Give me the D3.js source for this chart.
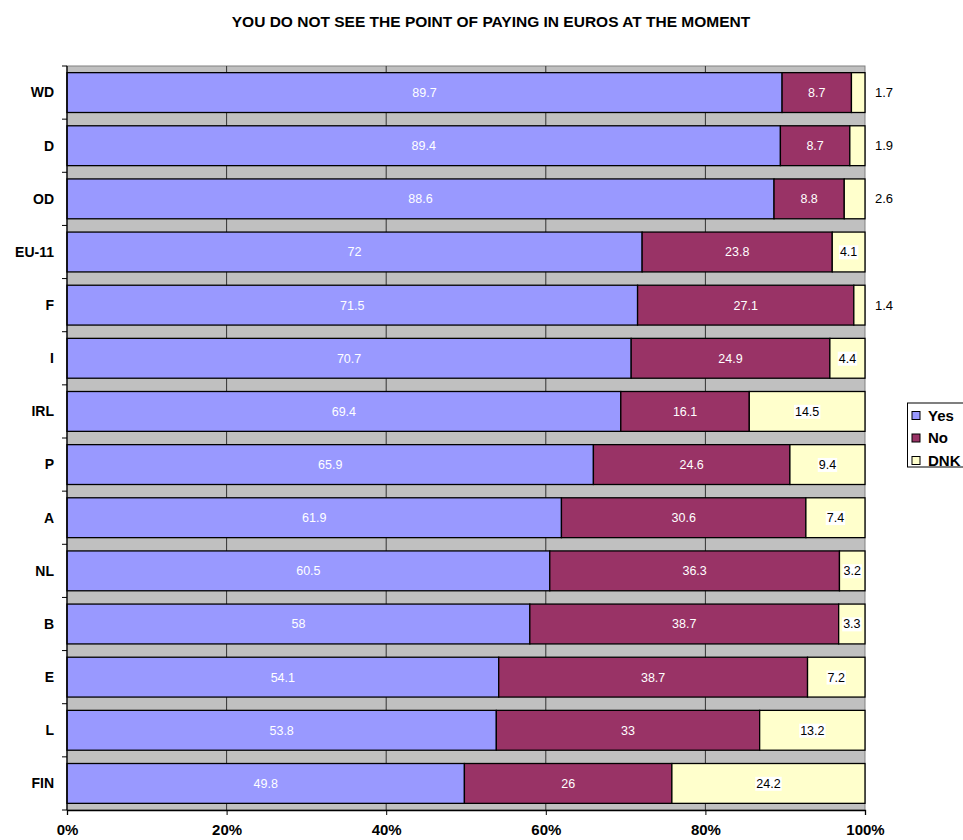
<!DOCTYPE html>
<html><head><meta charset="utf-8">
<script src="https://cdn.jsdelivr.net/npm/d3@7"></script>
<style>body{margin:0;background:#fff;} svg{display:block;font-family:Arial,"Liberation Sans",sans-serif;}</style>
</head><body>
<svg id="chart" width="963" height="840"></svg>
<script>
const title = "YOU DO NOT SEE THE POINT OF PAYING IN EUROS AT THE MOMENT";
const categories = ["WD","D","OD","EU-11","F","I","IRL","P","A","NL","B","E","L","FIN"];
const yesValues = [89.7,89.4,88.6,72,71.5,70.7,69.4,65.9,61.9,60.5,58,54.1,53.8,49.8];
const noValues  = [8.7,8.7,8.8,23.8,27.1,24.9,16.1,24.6,30.6,36.3,38.7,38.7,33,26];
const dnkValues = [1.7,1.9,2.6,4.1,1.4,4.4,14.5,9.4,7.4,3.2,3.3,7.2,13.2,24.2];
const seriesNames = ["Yes","No","DNK"];
const seriesColors = ["#9999ff","#993366","#ffffcc"];
const xTickValues = [0,0.2,0.4,0.6,0.8,1];

(function(){
const svg = d3.select("#chart");
const pLeft = 67, pRight = 865, pTop = 66, pBottom = 810;

svg.append("text").attr("x", 491).attr("y", 26.5).attr("text-anchor","middle")
  .attr("font-size", 15.5).attr("font-weight","bold").text(title);

const x = d3.scaleLinear().domain([0,1]).range([pLeft, pRight]);
const y = d3.scaleBand().domain(categories).range([pTop, pBottom]).paddingInner(0.25).paddingOuter(0.125);

svg.append("rect").attr("x", pLeft).attr("y", pTop).attr("width", pRight-pLeft).attr("height", pBottom-pTop)
  .attr("fill", "#c0c0c0").attr("stroke", "#808080").attr("stroke-width", 1);

svg.append("g").selectAll("line").data(xTickValues.slice(1, -1)).join("line")
  .attr("x1", d => x(d)).attr("x2", d => x(d)).attr("y1", pTop).attr("y2", pBottom)
  .attr("stroke", "#333").attr("stroke-width", 1);

const rows = categories.map((c, i) => {
  const vals = [yesValues[i], noValues[i], dnkValues[i]];
  const total = d3.sum(vals);
  let acc = 0;
  return vals.map((v, j) => {
    const s = { cat: c, series: j, value: v, x0: acc / total, x1: (acc + v) / total };
    acc += v;
    return s;
  });
}).flat();

svg.append("g").selectAll("rect").data(rows).join("rect")
  .attr("x", d => x(d.x0)).attr("width", d => x(d.x1) - x(d.x0))
  .attr("y", d => y(d.cat)).attr("height", y.bandwidth())
  .attr("fill", d => seriesColors[d.series]).attr("stroke", "#000").attr("stroke-width", 1.3);

const labG = svg.append("g").attr("font-size", 12.5);
rows.forEach(d => {
  const w = x(d.x1) - x(d.x0);
  const cy = y(d.cat) + y.bandwidth() / 2;
  const label = String(d.value);
  if (d.series < 2) {
    labG.append("text").attr("x", (x(d.x0) + x(d.x1)) / 2).attr("y", cy).attr("dy", "0.35em")
      .attr("text-anchor", "middle").attr("fill", "#fff").text(label);
  } else if (w < 25) {
    labG.append("text").attr("x", pRight + 19).attr("y", cy).attr("dy", "0.35em")
      .attr("text-anchor", "middle").attr("fill", "#000").attr("font-size", 13).text(label);
  } else {
    const cx = (x(d.x0) + x(d.x1)) / 2;
    const bg = labG.append("rect").attr("fill", "#fff");
    const t = labG.append("text").attr("x", cx).attr("y", cy).attr("dy", "0.35em")
      .attr("text-anchor", "middle").attr("fill", "#000").text(label);
    const bb = t.node().getBBox();
    bg.attr("x", bb.x - 1).attr("y", bb.y).attr("width", bb.width + 2).attr("height", bb.height);
  }
});

svg.append("line").attr("x1", pLeft).attr("x2", pLeft).attr("y1", pTop).attr("y2", pBottom).attr("stroke", "#000").attr("stroke-width", 1.3);
const step = y.step();
const boundaries = d3.range(categories.length + 1).map(i => pTop + i * step);
svg.append("g").selectAll("line").data(boundaries).join("line")
  .attr("x1", pLeft - 5).attr("x2", pLeft).attr("y1", d => d).attr("y2", d => d).attr("stroke", "#000");
svg.append("g").selectAll("text").data(categories).join("text")
  .attr("x", 54).attr("y", d => y(d) + y.bandwidth() / 2).attr("dy", "0.35em")
  .attr("text-anchor", "end").attr("font-size", 14).attr("font-weight", "bold").text(d => d);

const xAxis = svg.append("g").attr("transform", `translate(0,${pBottom})`)
  .call(d3.axisBottom(x).tickValues(xTickValues).tickFormat(d3.format(".0%")).tickSize(5).tickPadding(9));
xAxis.select(".domain").attr("stroke", "#000").attr("stroke-width", 1.3);
xAxis.selectAll("text").attr("font-size", 15).attr("font-weight", "bold").attr("font-family", "Arial,'Liberation Sans',sans-serif").attr("fill", "#000");
xAxis.selectAll(".tick line").attr("stroke", "#000");

const leg = svg.append("g").attr("transform", "translate(907,403)");
leg.append("rect").attr("x", 0.5).attr("y", 0).attr("width", 58).attr("height", 64).attr("fill", "#fff").attr("stroke", "#000");
seriesNames.forEach((n, i) => {
  const yy = 12.5 + i * 22.5;
  leg.append("rect").attr("x", 5).attr("y", yy - 4).attr("width", 8).attr("height", 8)
    .attr("fill", seriesColors[i]).attr("stroke", "#000");
  leg.append("text").attr("x", 21).attr("y", yy).attr("dy", "0.36em").attr("font-size", 15)
    .attr("font-weight", "bold").text(n);
});
})();
</script>
</body></html>
